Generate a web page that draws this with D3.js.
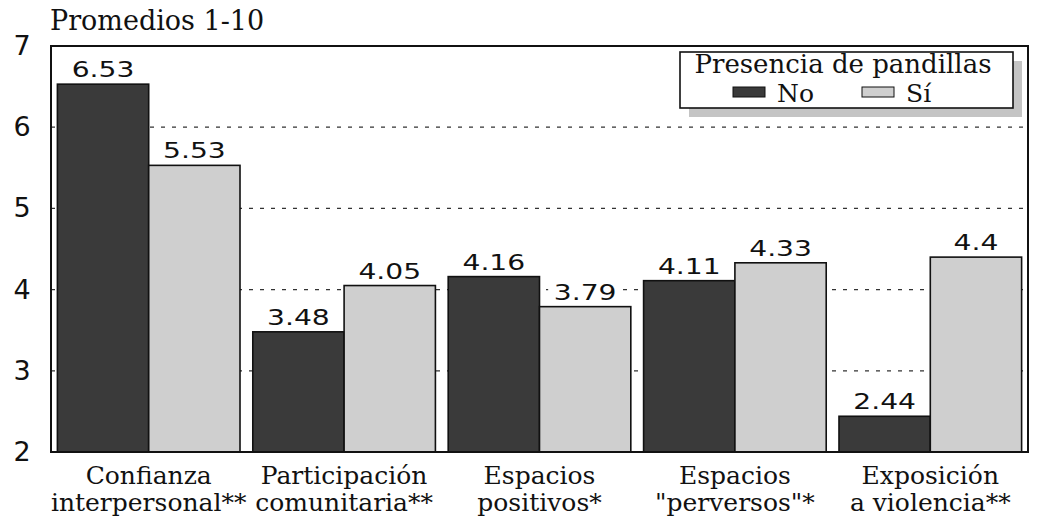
<!DOCTYPE html>
<head>
  <meta charset="utf-8">
  <script src="https://d3js.org/d3.v7.min.js"></script>
  <style>
    body { margin:0; background-color:#fff; }
    svg { display:block; }
    .num { font-family:"DejaVu Sans", sans-serif; }
    .lbl { font-family:"DejaVu Serif", serif; }
  </style>
</head>
<body>
<div class="chart-container"></div>
<script>
// data
var categories = [
  ["Confianza", "interpersonal**"],
  ["Participación", "comunitaria**"],
  ["Espacios", "positivos*"],
  ["Espacios", "\"perversos\"*"],
  ["Exposición", "a violencia**"]
];
var seriesNames = ["No", "Sí"];
var noValues = [6.53, 3.48, 4.16, 4.11, 2.44];
var siValues = [5.53, 4.05, 3.79, 4.33, 4.4];
var yTicks = [2, 3, 4, 5, 6, 7];

var W = 1037, H = 517;
var mL = 51, mR = 1028, mT = 46, mB = 452;

var svg = d3.select(".chart-container").append("svg")
  .attr("width", W)
  .attr("height", H);

var x0 = d3.scaleBand()
  .domain(d3.range(categories.length))
  .range([mL, mR]);

var x1 = d3.scaleBand()
  .domain([0, 1])
  .range([0, x0.bandwidth()])
  .paddingOuter(0.07);

var y = d3.scaleLinear()
  .domain([2, 7])
  .range([mB, mT]);

var fills = ["#3a3a3a", "#cfcfcf"];

// dashed gridlines
svg.append("g").selectAll("line")
  .data(yTicks.filter(function(d){ return d > 2 && d < 7; }))
  .enter().append("line")
  .attr("x1", mL).attr("x2", mR)
  .attr("y1", function(d){ return y(d); })
  .attr("y2", function(d){ return y(d); })
  .attr("stroke", "#333")
  .attr("stroke-width", 1.2)
  .attr("stroke-dasharray", "4,7");

// y tick labels
svg.append("g").selectAll("text")
  .data(yTicks)
  .enter().append("text")
  .attr("class", "num")
  .attr("x", 22)
  .attr("y", function(d){ return y(d) + 9; })
  .attr("text-anchor", "middle")
  .attr("font-size", 27)
  .attr("fill", "#111")
  .text(function(d){ return d; });

svg.append("text")
  .attr("class", "lbl")
  .attr("x", 50).attr("y", 30)
  .attr("font-size", 27)
  .attr("fill", "#111")
  .text("Promedios 1-10");

var rows = [];
categories.forEach(function(c, i){
  rows.push({cat: i, s: 0, v: noValues[i]});
  rows.push({cat: i, s: 1, v: siValues[i]});
});

svg.append("g").selectAll("rect")
  .data(rows)
  .enter().append("rect")
  .attr("x", function(d){ return x0(d.cat) + x1(d.s); })
  .attr("y", function(d){ return y(d.v); })
  .attr("width", x1.bandwidth())
  .attr("height", function(d){ return y(2) - y(d.v); })
  .attr("fill", function(d){ return fills[d.s]; })
  .attr("stroke", "#111")
  .attr("stroke-width", 1.6);

// frame
svg.append("rect")
  .attr("x", mL).attr("y", mT)
  .attr("width", mR - mL).attr("height", mB - mT)
  .attr("fill", "none")
  .attr("stroke", "#111")
  .attr("stroke-width", 2);

// value labels with white box
var vl = svg.append("g").selectAll("g")
  .data(rows)
  .enter().append("g")
  .attr("transform", function(d){
    return "translate(" + (x0(d.cat) + x1(d.s) + x1.bandwidth() / 2) + "," + (y(d.v) - 7) + ")";
  });
vl.append("rect")
  .attr("x", function(d){ return -String(d.v).length * 8.5 - 3; })
  .attr("y", -23)
  .attr("width", function(d){ return String(d.v).length * 17 + 6; })
  .attr("height", 27)
  .attr("fill", "#fff");
vl.append("text")
  .attr("class", "num")
  .attr("text-anchor", "middle")
  .attr("font-size", 22)
  .attr("transform", "scale(1.28,1)")
  .attr("fill", "#111")
  .text(function(d){ return d.v; });

// category labels
var cl = svg.append("g").selectAll("text")
  .data(categories)
  .enter().append("text")
  .attr("class", "lbl")
  .attr("text-anchor", "middle")
  .attr("font-size", 25)
  .attr("fill", "#111")
  .attr("transform", function(d, i){ return "translate(" + (x0(i) + x0.bandwidth() / 2) + ",0)"; });
cl.append("tspan").attr("x", 0).attr("y", 484).text(function(d){ return d[0]; });
cl.append("tspan").attr("x", 0).attr("y", 511).text(function(d){ return d[1]; });

// legend
var lg = svg.append("g").attr("transform", "translate(680,52)");
lg.append("rect")
  .attr("x", 9).attr("y", 9).attr("width", 333).attr("height", 56)
  .attr("fill", "#c4c4c4");
lg.append("rect")
  .attr("x", 0).attr("y", 0).attr("width", 333).attr("height", 56)
  .attr("fill", "#fff").attr("stroke", "#111").attr("stroke-width", 1.6);
lg.append("text")
  .attr("class", "lbl")
  .attr("x", 163).attr("y", 21)
  .attr("text-anchor", "middle")
  .attr("font-size", 26)
  .attr("fill", "#111")
  .text("Presencia de pandillas");
var li = lg.selectAll("g.it")
  .data(seriesNames)
  .enter().append("g")
  .attr("class", "it")
  .attr("transform", function(d, i){ return "translate(" + (53 + i * 129) + ",35)"; });
li.append("rect")
  .attr("width", 32).attr("height", 10)
  .attr("fill", function(d, i){ return fills[i]; })
  .attr("stroke", "#111").attr("stroke-width", 1);
li.append("text")
  .attr("class", "lbl")
  .attr("x", 44).attr("y", 15)
  .attr("font-size", 25)
  .attr("fill", "#111")
  .text(function(d){ return d; });
</script>
</body>
